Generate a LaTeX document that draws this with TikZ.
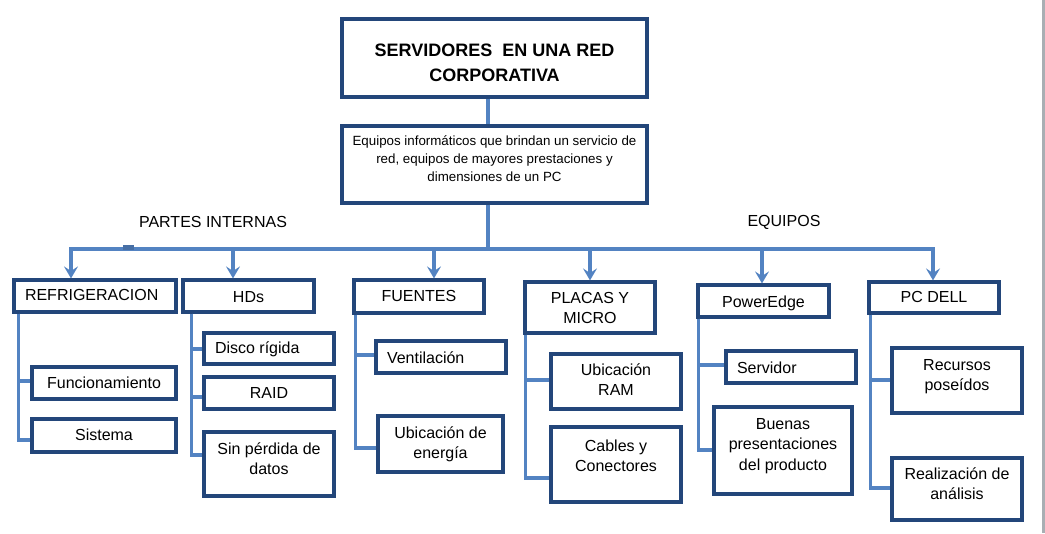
\documentclass[tikz,border=0pt]{standalone}
\usepackage{fontspec}
\setmainfont{Liberation Sans}
\usetikzlibrary{arrows.meta,calc}

\definecolor{cajaazul}{HTML}{23467A}
\definecolor{lineaazul}{HTML}{5383C2}
\definecolor{grisborde}{HTML}{A9AEB3}

% one pixel of the reference
\newlength\unitpx
\setlength\unitpx{0.75pt}
% box text: width, height, first baseline from top (px), text
\newcommand{\celda}[4]{\parbox[c][#2\unitpx][t]{#1\unitpx}{\centering\vspace*{\dimexpr#3\unitpx-\ht\strutbox\relax}\strut#4}}
\newcommand{\izq}[1]{\hspace*{11\unitpx}#1\hfill\null}

\begin{document}
\begin{tikzpicture}[x=0.75pt, y=-0.75pt,
	caja/.style={draw=cajaazul, line width=2.4pt, inner sep=0pt, fill=white, font=\fontsize{12}{15.4}\selectfont},
	linea/.style={draw=lineaazul, line width=2.7pt},
	flecha/.style={linea, -{Stealth[length=9pt, width=10.5pt, inset=3.5pt]}},
	etiqueta/.style={font=\fontsize{12}{14}\selectfont}]
	
	\useasboundingbox (0,0) rectangle (1045,533);
	
	%% TOP
	\node[caja, font=\bfseries\fontsize{13.5}{18.75}\selectfont] (titulo) at (494.5,58)
		{\celda{305}{78}{37.5}{SERVIDORES\ \ EN UNA RED\\CORPORATIVA}};
	\node[caja, font=\fontsize{10}{13.5}\selectfont] (desc) at (494.5,164.5)
		{\celda{305}{77}{19}{Equipos informáticos que brindan un servicio de\\red, equipos de mayores prestaciones y\\dimensiones de un PC}};
	
	\node[etiqueta] (partes) at (213,222) {PARTES INTERNAS};
	\node[etiqueta] (equipos) at (784,222) {EQUIPOS};
	
	%% FIRST LEVEL
	\node[caja] (refrig)    at (95,296)    {\celda{162}{32}{20}{\izq{REFRIGERACION}}};
	\node[caja] (hds)       at (248.5,296) {\celda{131}{32}{22}{HDs}};
	\node[caja] (fuentes)   at (419,296.5) {\celda{130}{33}{21}{FUENTES}};
	\node[caja] (placas)    at (590,307.5) {\celda{130}{51}{21}{PLACAS Y\\MICRO}};
	\node[caja] (poweredge) at (763.5,301) {\celda{131}{32}{22}{PowerEdge}};
	\node[caja] (pcdell)    at (934,297.5) {\celda{130}{31}{20}{PC DELL}};
	
	%% SECOND LEVEL
	% Refrigeracion
	\node[caja] (funcion) at (104,383)   {\celda{144}{32}{21}{Funcionamiento}};
	\node[caja] (sistema) at (104,435.5) {\celda{144}{33}{21}{Sistema}};
	% HDs
	\node[caja] (disco)      at (269,348.5) {\celda{130}{31}{20}{\izq{Disco rígida}}};
	\node[caja] (raid)       at (269,393)   {\celda{130}{32}{21}{RAID}};
	\node[caja] (sinperdida) at (269,464)   {\celda{130}{64}{22}{Sin pérdida de\\datos}};
	% Fuentes
	\node[caja] (ventil)  at (441,357)   {\celda{130}{32}{22}{\izq{Ventilación}}};
	\node[caja] (energia) at (440.5,444) {\celda{125}{56}{22}{Ubicación de\\energía}};
	% Placas
	\node[caja] (ram)    at (616,381.5) {\celda{130}{55}{21}{Ubicación\\RAM}};
	\node[caja] (cables) at (616,464.5) {\celda{130}{75}{24}{Cables y\\Conectores}};
	% PowerEdge
	\node[caja] (servidor) at (791,367)   {\celda{130}{32}{22}{\izq{Servidor}}};
	\node[caja] (buenas)   at (783,450.5) {\celda{138}{87}{22}{Buenas\\presentaciones\\del producto}};
	% PC DELL
	\node[caja] (recursos) at (957,380.5) {\celda{130}{65}{22}{Recursos\\poseídos}};
	\node[caja] (realiz)   at (957,489)   {\celda{130}{62}{21}{Realización de\\análisis}};
	
	%% CONNECTORS
	\coordinate (tronco) at (488,249);
	\draw[linea] (titulo.south -| tronco) -- (desc.north -| tronco);
	\draw[linea] (desc.south -| tronco) -- (tronco);
	
	% bar and arrows
	\foreach \n/\ox in {refrig/-24, hds/-15.5, fuentes/15, placas/0, poweredge/-1.5, pcdell/-1}
	{
		\draw[flecha] (tronco) -| ($(\n.north)+(\ox,0)$);
	}
	\draw[linea, draw=lineaazul!85!black, line width=3.4pt] (123,247.6) -- (134,247.6);
	
	% branches
	\foreach \p/\ox/\h/\oy in {refrig/6/funcion/-2, refrig/6/sistema/4.5,
		hds/10/disco/0.5, hds/10/raid/4, hds/10/sinperdida/-9,
		fuentes/3/ventil/-2, fuentes/3/energia/4,
		placas/2/ram/-1.5, placas/2/cables/13.5,
		poweredge/2/servidor/-2, poweredge/2/buenas/-0.5,
		pcdell/3/recursos/-0.5, pcdell/3/realiz/-1}
	{
		\draw[linea] ($(\p.south west)+(\ox,0)$) |- ($(\h.west)+(0,\oy)$);
	}
	
	% page edge
	\fill[grisborde] (1042,0) rectangle (1045,533);
	
\end{tikzpicture}
\end{document}
